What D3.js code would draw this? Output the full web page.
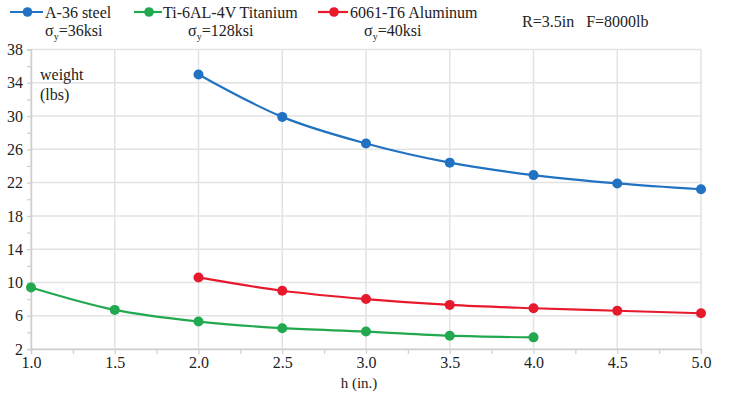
<!DOCTYPE html>
<html>
<head>
<meta charset="utf-8">
<script src="https://cdn.jsdelivr.net/npm/d3@7"></script>
<style>
  body { margin: 0; background: #fff; }
</style>
</head>
<body>
<div id="chart"></div>
<script>
// h (in.) values and weights (lbs) for each material
const steelH = [2.0, 2.5, 3.0, 3.5, 4.0, 4.5, 5.0];
const steelW = [35.0, 29.9, 26.7, 24.4, 22.9, 21.9, 21.2];
const titanH = [1.0, 1.5, 2.0, 2.5, 3.0, 3.5, 4.0];
const titanW = [9.4, 6.7, 5.3, 4.5, 4.1, 3.6, 3.4];
const aluH = [2.0, 2.5, 3.0, 3.5, 4.0, 4.5, 5.0];
const aluW = [10.6, 9.0, 8.0, 7.3, 6.9, 6.6, 6.3];

const xTicks = [1.0, 1.5, 2.0, 2.5, 3.0, 3.5, 4.0, 4.5, 5.0];
const yTicks = [2, 6, 10, 14, 18, 22, 26, 30, 34, 38];

const seriesNames = ['A-36 steel', 'Ti-6AL-4V Titanium', '6061-T6 Aluminum'];
const sigmaLabels = ['=36ksi', '=128ksi', '=40ksi'];
const colors = ['#2272c3', '#22a84e', '#e6192d'];

const FONT = '"Liberation Serif", "Times New Roman", Tinos';

let width = 735, height = 402;
let margin = { top: 49.5, right: 34, bottom: 53, left: 31 };

let svg = d3.select('#chart').append('svg')
    .attr('width', width)
    .attr('height', height)
    .style('font-family', FONT);

let x = d3.scaleLinear().domain([1, 5]).range([margin.left, width - margin.right]);
let y = d3.scaleLinear().domain([2, 38]).range([height - margin.bottom, margin.top]);

// grid
let grid = svg.append('g');
grid.selectAll('.vg').data(xTicks).enter().append('line')
    .attr('x1', d => x(d)).attr('x2', d => x(d))
    .attr('y1', y(38)).attr('y2', y(2))
    .attr('stroke', '#e3e3e3').attr('stroke-width', 1.5);
grid.selectAll('.hg').data(yTicks).enter().append('line')
    .attr('x1', x(1)).attr('x2', x(5))
    .attr('y1', d => y(d)).attr('y2', d => y(d))
    .attr('stroke', '#e3e3e3').attr('stroke-width', 1.5);

// axes with minor ticks
let xMinor = d3.range(1, 5.001, 0.25);
let xAxis = svg.append('g')
    .attr('transform', `translate(0,${y(2)})`)
    .call(d3.axisBottom(x).tickValues(xMinor).tickSize(5).tickFormat(d => xTicks.includes(d) ? d.toFixed(1) : ''));
xAxis.select('.domain').attr('stroke', '#cfcfcf').attr('stroke-width', 1.5);
xAxis.selectAll('.tick line').attr('stroke', '#cfcfcf').attr('stroke-width', 1.2);
xAxis.selectAll('.tick text').attr('font-size', 16).style('font-family', FONT).attr('fill', '#222');

let yMinor = d3.range(2, 38.001, 2);
let yAxis = svg.append('g')
    .attr('transform', `translate(${x(1)},0)`)
    .call(d3.axisLeft(y).tickValues(yMinor).tickSize(4).tickFormat(d => yTicks.includes(d) ? d : ''));
yAxis.select('.domain').attr('stroke', '#cfcfcf').attr('stroke-width', 1.5);
yAxis.selectAll('.tick line').attr('stroke', '#cfcfcf').attr('stroke-width', 1.2);
yAxis.selectAll('.tick text').attr('font-size', 16).style('font-family', FONT).attr('fill', '#222').attr('x', -8);

// axis titles
function label(xp, yp, size, txt) {
    return svg.append('text').attr('x', xp).attr('y', yp).attr('font-size', size)
        .style('font-family', FONT).attr('fill', '#222').text(txt);
}
label(359, 388, 15, 'h (in.)').attr('text-anchor', 'middle');
label(40, 80, 16, 'weight');
label(40, 100, 16, '(lbs)');

// series
let series = [
    steelH.map((h, i) => ({ h: h, w: steelW[i] })),
    titanH.map((h, i) => ({ h: h, w: titanW[i] })),
    aluH.map((h, i) => ({ h: h, w: aluW[i] }))
];

let line = d3.line().x(d => x(d.h)).y(d => y(d.w)).curve(d3.curveMonotoneX);

series.forEach((s, i) => {
    svg.append('path').datum(s)
        .attr('d', line)
        .attr('fill', 'none')
        .attr('stroke', colors[i])
        .attr('stroke-width', 2.2);
    svg.append('g').selectAll('circle').data(s).enter().append('circle')
        .attr('cx', d => x(d.h)).attr('cy', d => y(d.w))
        .attr('r', 5)
        .attr('fill', colors[i]);
});

// legend
let legendLine = [[10, 43], [134, 162], [318, 348]];
let legendText = [45, 163, 350];
let sigmaX = [45, 188, 364];
seriesNames.forEach((name, i) => {
    let g = svg.append('g');
    g.append('line')
        .attr('x1', legendLine[i][0]).attr('x2', legendLine[i][1])
        .attr('y1', 12).attr('y2', 12)
        .attr('stroke', colors[i]).attr('stroke-width', 2.2);
    g.append('circle').attr('cx', (legendLine[i][0] + legendLine[i][1]) / 2 + 1).attr('cy', 12)
        .attr('r', 4.8).attr('fill', colors[i]);
    g.append('text').attr('x', legendText[i]).attr('y', 18).attr('font-size', 16)
        .style('font-family', FONT).attr('fill', '#222').text(name);
    let t = g.append('text').attr('x', sigmaX[i]).attr('y', 36).attr('font-size', 16)
        .style('font-family', FONT).attr('fill', '#222');
    t.append('tspan').text('σ');
    t.append('tspan').attr('font-size', 10).attr('dy', 4).text('y');
    t.append('tspan').attr('dy', -4).text(sigmaLabels[i]);
});

label(522, 27, 16, 'R=3.5in\u00a0\u00a0\u00a0F=8000lb');
</script>
</body>
</html>
